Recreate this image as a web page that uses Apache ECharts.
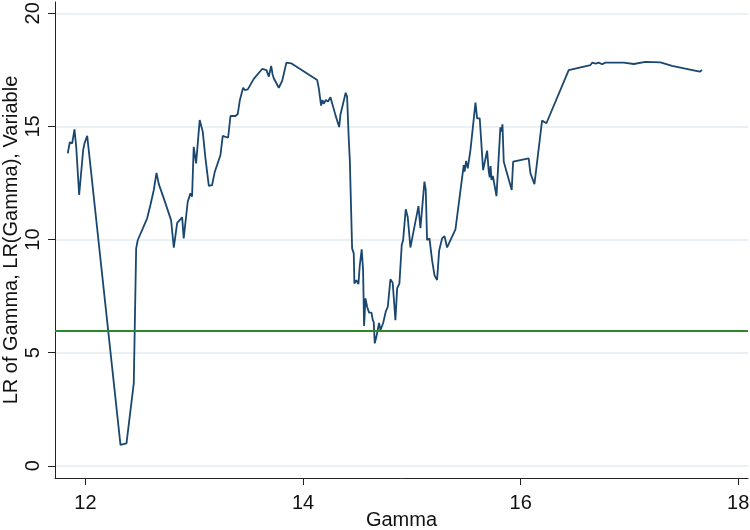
<!DOCTYPE html>
<html>
<head>
<meta charset="utf-8">
<script src="https://cdn.jsdelivr.net/npm/echarts@6/dist/echarts.min.js"></script>
<style>
html,body{margin:0;padding:0;background:#fff;}
#chart{width:750px;height:530px;}
</style>
</head>
<body>
<div id="chart"></div>
<script>
const gamma = [
  11.837, 11.856, 11.878, 11.899, 11.915, 11.942, 11.979, 11.991, 12.016, 12.322,
  12.377, 12.444, 12.466, 12.481, 12.567, 12.597, 12.628, 12.653, 12.674, 12.690,
  12.720, 12.787, 12.812, 12.843, 12.889, 12.903, 12.920, 12.940, 12.965, 12.980,
  12.995, 13.017, 13.050, 13.078, 13.103, 13.134, 13.164, 13.189, 13.241, 13.262,
  13.311, 13.333, 13.379, 13.400, 13.419, 13.449, 13.464, 13.492, 13.547, 13.624,
  13.664, 13.685, 13.707, 13.720, 13.731, 13.745, 13.777, 13.808, 13.847, 13.891,
  14.130, 14.145, 14.166, 14.178, 14.190, 14.209, 14.230, 14.252, 14.298, 14.332,
  14.344, 14.360, 14.392, 14.405, 14.420, 14.430, 14.451, 14.466, 14.472, 14.490,
  14.509, 14.521, 14.530, 14.539, 14.552, 14.561, 14.574, 14.589, 14.607, 14.620,
  14.629, 14.641, 14.650, 14.659, 14.674, 14.686, 14.699, 14.711, 14.736, 14.760,
  14.779, 14.803, 14.824, 14.849, 14.865, 14.886, 14.907, 14.920, 14.930, 14.944,
  14.962, 14.987, 15.003, 15.061, 15.079, 15.116, 15.128, 15.140, 15.162, 15.186,
  15.208, 15.232, 15.251, 15.265, 15.278, 15.300, 15.324, 15.401, 15.477, 15.485,
  15.499, 15.514, 15.539, 15.585, 15.600, 15.624, 15.655, 15.692, 15.707, 15.716,
  15.724, 15.732, 15.745, 15.778, 15.814, 15.824, 15.833, 15.845, 15.918, 15.931,
  16.074, 16.090, 16.127, 16.197, 16.237, 16.442, 16.642, 16.657, 16.690, 16.718,
  16.749, 16.779, 16.948, 17.040, 17.147, 17.285, 17.392, 17.646, 17.668
];
const lr = [
  13.81, 14.30, 14.25, 14.87, 14.10, 11.97, 13.96, 14.25, 14.58, 0.92,
  0.99, 3.64, 9.61, 9.98, 10.94, 11.53, 12.19, 12.95, 12.45, 12.40,
  11.82, 10.86, 9.64, 10.74, 10.98, 10.05, 10.10, 11.67, 12.04, 11.90,
  14.10, 13.37, 15.28, 14.77, 13.59, 12.37, 12.41, 13.00, 13.74, 14.58,
  14.50, 15.46, 15.46, 15.55, 16.16, 16.71, 16.61, 16.64, 17.10, 17.54,
  17.49, 17.20, 17.67, 17.30, 17.13, 17.15, 16.71, 17.01, 17.82, 17.79,
  17.05, 16.68, 15.92, 16.17, 16.00, 16.17, 16.10, 16.29, 15.50, 14.97,
  15.53, 15.50, 16.49, 16.31, 14.47, 13.51, 9.61, 9.39, 8.06, 8.20,
  8.03, 8.83, 8.80, 9.57, 8.65, 6.18, 7.40, 7.03, 6.77, 6.70,
  6.77, 6.44, 6.35, 5.41, 5.70, 5.70, 6.32, 6.00, 6.30, 6.81,
  7.03, 8.24, 8.09, 6.44, 7.84, 8.06, 9.76, 9.98, 9.90, 11.34,
  11.00, 9.65, 10.05, 11.48, 10.50, 12.56, 12.19, 9.98, 10.05, 9.09,
  8.43, 8.21, 9.51, 9.50, 10.05, 10.15, 9.65, 10.45, 13.29, 13.00,
  13.48, 13.15, 13.96, 16.05, 15.36, 15.36, 13.07, 13.93, 13.00, 12.75,
  13.25, 12.63, 12.81, 11.92, 14.96, 14.77, 15.09, 13.44, 12.19, 13.44,
  13.59, 12.93, 12.45, 15.26, 15.14, 17.49, 17.71, 17.82, 17.78, 17.82,
  17.75, 17.82, 17.82, 17.76, 17.85, 17.83, 17.68, 17.42, 17.49
];
const criticalValue = 5.99;
const xTicks = [12, 14, 16, 18];
const yTicks = [0, 5, 10, 15, 20];
const xTitle = 'Gamma';
const yTitle = 'LR of Gamma, LR(Gamma), Variable';

const FONT = '"Liberation Sans", Arial, sans-serif';
const chart = echarts.init(document.getElementById('chart'), null, {renderer: 'canvas'});
chart.setOption({
  animation: false,
  backgroundColor: '#ffffff',
  grid: {left: 55, right: 2, top: 2, bottom: 52, containLabel: false, outerBoundsMode: 'none'},
  xAxis: {
    type: 'value',
    min: 11.72,
    max: 18.09,
    name: xTitle,
    nameLocation: 'middle',
    nameGap: 32,
    nameMoveOverlap: false,
    nameTextStyle: {fontFamily: FONT, fontSize: 20, color: '#111'},
    axisLine: {show: true, onZero: false, lineStyle: {color: '#222', width: 1}},
    axisTick: {show: true, customValues: xTicks, length: 7, lineStyle: {color: '#222', width: 1}},
    axisLabel: {customValues: xTicks, fontFamily: FONT, fontSize: 20, color: '#111', margin: 15},
    splitLine: {show: false}
  },
  yAxis: {
    type: 'value',
    min: -0.54,
    max: 20.5,
    name: yTitle,
    nameLocation: 'middle',
    nameGap: 34,
    nameMoveOverlap: false,
    nameTextStyle: {fontFamily: FONT, fontSize: 20, color: '#111'},
    axisLine: {show: true, onZero: false, lineStyle: {color: '#222', width: 1}},
    axisTick: {show: true, customValues: yTicks, length: 7, lineStyle: {color: '#222', width: 1}},
    axisLabel: {customValues: yTicks, rotate: 90, fontFamily: FONT, fontSize: 20, color: '#111', margin: 12},
    splitLine: {show: true, lineStyle: {color: '#e3ecf0', width: 1.5}}
  },
  series: [{
    type: 'line',
    data: gamma.map((g, i) => [g, lr[i]]),
    showSymbol: false,
    symbol: 'none',
    lineStyle: {color: '#1a476f', width: 1.8},
    z: 3,
    markLine: {
      silent: true,
      symbol: 'none',
      label: {show: false},
      lineStyle: {color: '#2a8a2a', type: 'solid', width: 2},
      data: [{yAxis: criticalValue}]
    }
  }]
});
</script>
</body>
</html>
